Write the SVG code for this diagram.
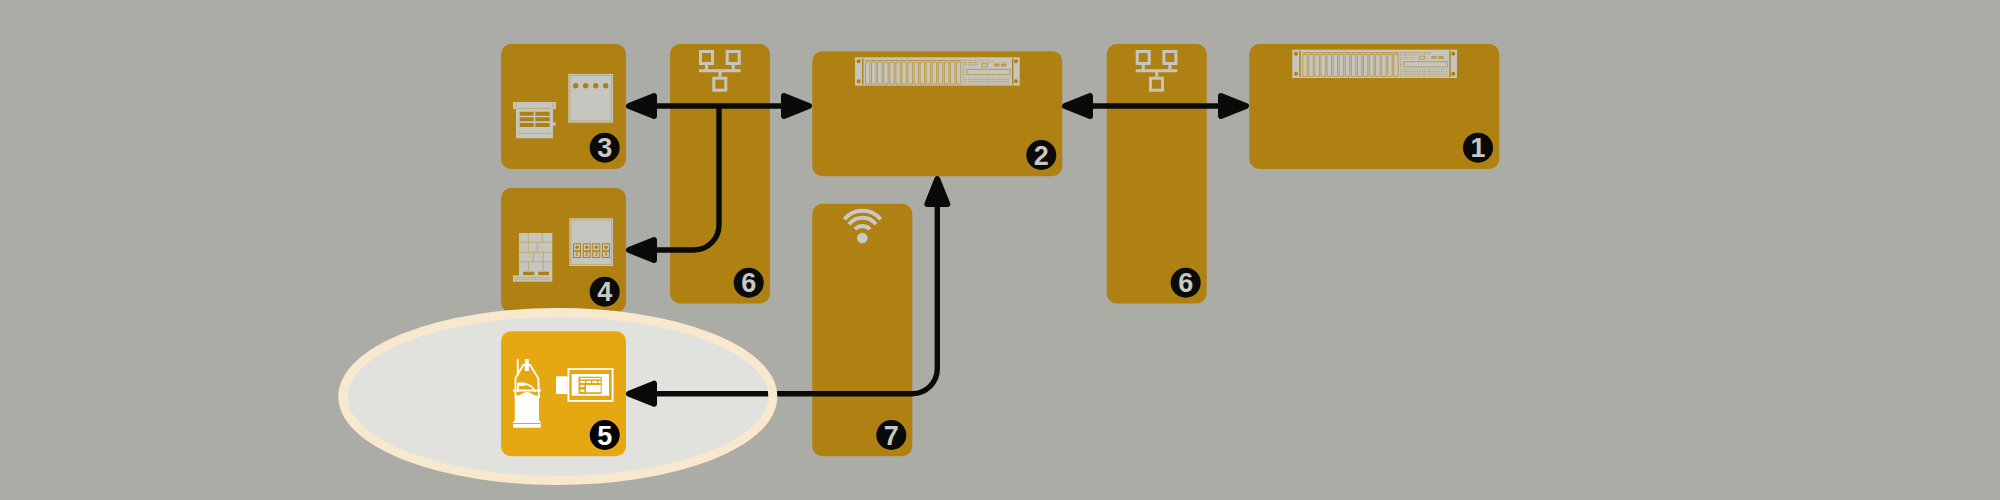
<svg xmlns="http://www.w3.org/2000/svg" width="2000" height="500" viewBox="0 0 2000 500">
<style>
.n{fill:#af8112}
.hi{fill:#e5a812}
.b{fill:#0a0a08}
.t{font-family:"Liberation Sans",Arial,sans-serif;font-weight:700;font-size:27px;fill:#c8c8c4;text-anchor:middle}
.m{font-family:"Liberation Sans",Arial,sans-serif;font-weight:700;font-size:5px;fill:#ae8011;text-anchor:middle}
.l{fill:#c6c6c0}
.a{fill:#ae8011}
.o{fill:none;stroke:#c6c6c0;stroke-width:3}
.s{fill:none;stroke:#bc9b4c;stroke-width:1}
.f{fill:none;stroke:#bfa767;stroke-width:.9}
.w{fill:#fff}
.wo{fill:none;stroke:#fff;stroke-width:1.8}
.c{fill:none;stroke:#0a0a08;stroke-width:5.4;marker-end:url(#a)}
.d{marker-start:url(#a)}
</style>
<defs>
<marker id="a" markerUnits="userSpaceOnUse" markerWidth="31" markerHeight="26" viewBox="0 0 31 26" refX="21" refY="13" orient="auto-start-reverse" overflow="visible"><path d="M3 3L28 13L3 23Z" fill="#0a0a08" stroke="#0a0a08" stroke-width="6" stroke-linejoin="round"/></marker>
<pattern id="dots" width="2.4" height="2.4" patternUnits="userSpaceOnUse"><rect width="2.4" height="2.4" fill="#c6c6c0"/><rect width="1.1" height="1.1" fill="#b68e2a"/></pattern>
<g id="net"><rect class="o" x="700.5" y="51.5" width="12" height="12"/><rect class="o" x="727.2" y="51.5" width="12" height="12"/><rect class="o" x="713.8" y="78.2" width="12" height="12"/><path class="o" d="M699 70.7H740.7M706.5 65V70.7M733.2 65V70.7M720 70.7V76.7"/></g>
<g id="server">
<rect class="l" width="164.7" height="28.3"/>
<rect class="a" x="7" y="1" width="1.4" height="26.3"/><rect class="a" x="157" y="1" width="1.4" height="26.3"/>
<circle class="a" cx="3.7" cy="4" r="2"/><circle class="a" cx="3.7" cy="24" r="2"/><circle class="a" cx="161" cy="4" r="2"/><circle class="a" cx="161" cy="24" r="2"/>
<rect x="10" y="2.4" width="96.5" height="1.2" fill="#bc9b4c"/>
<path d="M10.5 4.7h4.4v22h-4.4zM16.6 4.7h4.4v22h-4.4zM22.6 4.7h4.4v22h-4.4zM28.7 4.7h4.4v22h-4.4zM34.8 4.7h4.4v22h-4.4zM40.9 4.7h4.4v22h-4.4zM46.9 4.7h4.4v22h-4.4zM53 4.7h4.4v22h-4.4zM59.1 4.7h4.4v22h-4.4zM65.1 4.7h4.4v22h-4.4zM71.2 4.7h4.4v22h-4.4zM77.3 4.7h4.4v22h-4.4zM83.3 4.7h4.4v22h-4.4zM89.4 4.7h4.4v22h-4.4zM95.5 4.7h4.4v22h-4.4zM101.5 4.7h4.4v22h-4.4z" class="s"/>
<rect x="107" y="1.7" width="48" height="8" fill="url(#dots)"/><rect x="107" y="19.5" width="48" height="7.5" fill="url(#dots)"/><rect x="107" y="10" width="3" height="9" fill="url(#dots)"/>
<rect class="s" x="111.7" y="12" width="43.3" height="5.3"/>
<rect class="l" x="139" y="1.7" width="16" height="3.3"/><rect class="l" x="123" y="5.3" width="32" height="5"/>
<rect class="s" x="127" y="6.5" width="5.5" height="3"/><rect x="139" y="6.2" width="5.5" height="3" fill="#bc9b4c"/><rect x="146" y="6.2" width="5.5" height="3" fill="#bc9b4c"/>
</g>
<g id="mod"><rect class="a" width="8" height="14.7"/><rect class="l" x="1" y="1" width="6" height="6"/><circle class="a" cx="4" cy="4" r="1.7"/><rect class="l" x="1" y="8.5" width="6" height="5.2"/></g>
</defs>
<rect width="2000" height="500" fill="#acaca7"/>
<ellipse cx="557.8" cy="396.5" rx="215" ry="84" fill="#e1e2de"/>

<g id="node-1"><rect class="n" x="1249.3" y="44" width="250" height="125" rx="10"/><use href="#server" x="1292.3" y="49.7"/><circle class="b" cx="1478" cy="147.7" r="15"/><text class="t" x="1478" y="157.2">1</text></g>

<g id="node-2"><rect class="n" x="812.3" y="51.3" width="250" height="125" rx="10"/><use href="#server" x="855" y="57.3"/><circle class="b" cx="1041.3" cy="155" r="15"/><text class="t" x="1041.3" y="164.5">2</text></g>

<g id="node-3"><rect class="n" x="501" y="44" width="125" height="125" rx="10"/>
<rect class="l" x="513" y="102" width="43" height="7"/><rect class="l" x="516" y="105" width="37" height="33.3"/><rect class="l" x="553" y="122.3" width="2.7" height="3.4"/>
<path class="f" d="M516 102.5V108M553 102.5V108M518 133.3H551M518 108.5H551"/>
<path class="a" d="M519.7 111.7h14v4h-14zM535.3 111.7h14.4v4h-14.4zM519.7 117.3h14v4h-14zM535.3 117.3h14.4v4h-14.4zM519.7 123h14v4h-14zM535.3 123h14.4v4h-14.4z"/>
<rect class="l" x="568.3" y="74" width="44.7" height="48.7"/><rect class="f" x="570" y="75.5" width="41.3" height="45.5"/>
<circle class="a" cx="575.7" cy="85.7" r="2.7"/><circle class="a" cx="585.7" cy="85.7" r="2.7"/><circle class="a" cx="595.7" cy="85.7" r="2.7"/><circle class="a" cx="605.7" cy="85.7" r="2.7"/>
<circle class="b" cx="604.7" cy="147.7" r="15"/><text class="t" x="604.7" y="157.2">3</text></g>

<g id="node-4"><rect class="n" x="501" y="188" width="125" height="124.5" rx="10"/>
<rect class="l" x="519" y="233" width="33.3" height="38"/>
<path class="f" d="M519 242.3H552.3M519 252.3H552.3M519 261.7H552.3M528.3 233V242.3M542.3 233V242.3M528.3 242.3V252.3M537.3 242.3V252.3M533.3 252.3V261.7M543.3 252.3V261.7M528.3 261.7V271M543.3 261.7V271"/>
<rect class="l" x="519" y="271" width="33.3" height="5"/><rect class="a" x="523" y="271.7" width="11.3" height="3.5"/><rect class="a" x="538.3" y="271.7" width="10.7" height="3.5"/>
<rect class="l" x="513" y="275.3" width="39.3" height="6.4"/>
<g class="f"><circle cx="516" cy="278.5" r="1.6"/><circle cx="520.5" cy="278.5" r="1.6"/><circle cx="525" cy="278.5" r="1.6"/><circle cx="529.5" cy="278.5" r="1.6"/><circle cx="534" cy="278.5" r="1.6"/><circle cx="538.5" cy="278.5" r="1.6"/><circle cx="543" cy="278.5" r="1.6"/><circle cx="547.5" cy="278.5" r="1.6"/></g>
<rect class="l" x="569.3" y="218.3" width="43.7" height="47.7"/><rect class="f" x="570.8" y="220" width="40.7" height="44.5"/>
<use href="#mod" x="573" y="243.3"/><use href="#mod" x="582.7" y="243.3"/><use href="#mod" x="592.3" y="243.3"/><use href="#mod" x="602" y="243.3"/>
<text class="m" x="577" y="256">1</text><text class="m" x="586.7" y="256">2</text><text class="m" x="596.3" y="256">3</text><text class="m" x="606" y="256">4</text>
<circle class="b" cx="604.7" cy="291.7" r="15"/><text class="t" x="604.7" y="301.2">4</text></g>

<g id="node-5"><rect class="hi" x="501" y="331.3" width="125" height="125" rx="10"/>
<path class="wo" d="M517.7 359V376M515.5 398V378.3L523.3 365H530L538.3 378.3L539 398M513 390.5H541M518 392V384H526Q533 386 535 392"/>
<rect class="w" x="524.8" y="359" width="4" height="12"/>
<rect class="w" x="518" y="382.5" width="7" height="3.5"/>
<path class="w" d="M514.8 421V397Q516 395 520 395Q527 389 534 395Q538 395 539 397V421Z"/>
<path class="w" d="M514.8 420H539L540.6 422V427.7H513V422Z"/><path d="M513 423.5H540.6" stroke="#e5a812" stroke-width="1"/>
<rect class="w" x="556" y="376.3" width="11.7" height="17.7"/>
<rect x="568.4" y="369.1" width="44.2" height="31.8" fill="none" stroke="#fff" stroke-width="1.8"/><rect class="w" x="571.7" y="374" width="37.3" height="21.7"/>
<rect class="hi" x="578.5" y="376.7" width="23.2" height="17.3"/>
<path class="w" d="M580.3 381h4.7v2h-4.7zM586.3 381h4.7v2h-4.7zM592.3 381h4.7v2h-4.7zM598.3 381h2.3v2h-2.3zM580.3 385h4v2h-4zM580.3 389.7h4v2h-4zM586 385h14.7v7.3H586z"/>
<rect class="w" x="580.3" y="378" width="20.3" height="1.4"/>
<circle cx="604.7" cy="435" r="15" fill="#000"/><text class="t" x="604.7" y="444.5" style="fill:#fff">5</text></g>

<g id="node-6a"><rect class="n" x="670" y="44" width="100" height="259.5" rx="10"/><use href="#net"/><circle class="b" cx="748.7" cy="282.7" r="15"/><text class="t" x="748.7" y="292.2">6</text></g>

<g id="node-6b"><rect class="n" x="1106.7" y="44" width="100" height="259.5" rx="10"/><use href="#net" x="436.7"/><circle class="b" cx="1185.7" cy="282.7" r="15"/><text class="t" x="1185.7" y="292.2">6</text></g>

<g id="node-7"><rect class="n" x="812.3" y="203.7" width="100" height="252.6" rx="10"/>
<path d="M844.3 219.3A23.5 23.5 0 0 1 880.7 219.3M849 224.3A17 17 0 0 1 876 224.3M855 229.3A10 10 0 0 1 870 229.3" fill="none" stroke="#c8c8c4" stroke-width="4"/>
<circle cx="862.3" cy="238" r="5.3" fill="#c8c8c4"/>
<circle class="b" cx="891.3" cy="435" r="15"/><text class="t" x="891.3" y="444.5">7</text></g>

<g id="connectors">
<path class="c d" d="M636 106H802"/>
<path class="c" d="M719 106V225A25 25 0 0 1 694 250H636"/>
<path class="c d" d="M1072 106H1239"/>
<path class="c d" d="M636 393.7H912.3A25 25 0 0 0 937.3 368.7V186"/>
</g>
<ellipse cx="557.8" cy="396.5" rx="215" ry="84" fill="none" stroke="#f8e8ce" stroke-width="9"/>
</svg>
